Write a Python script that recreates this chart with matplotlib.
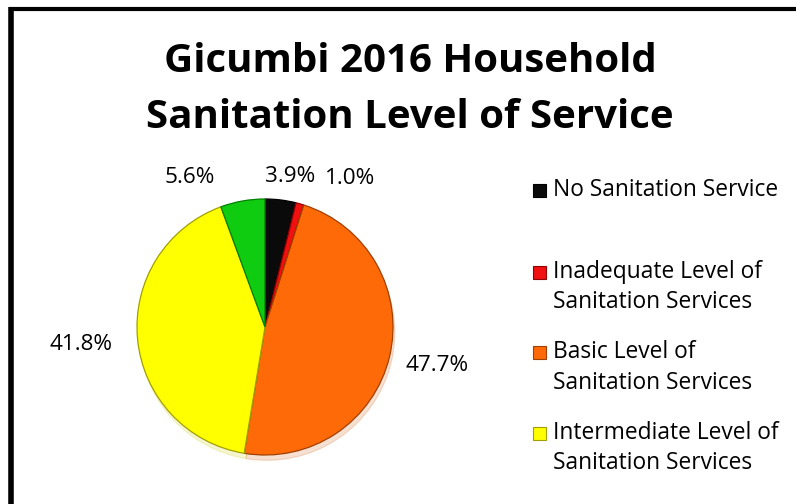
import matplotlib
matplotlib.use("Agg")
import matplotlib.pyplot as plt
from matplotlib.patches import Rectangle
from matplotlib.lines import Line2D
import numpy as np

categories = ["No Sanitation Service",
              "Inadequate Level of\nSanitation Services",
              "Basic Level of\nSanitation Services",
              "Intermediate Level of\nSanitation Services",
              "Advanced Level of\nSanitation Services"]
values = [3.9, 1.0, 47.7, 41.8, 5.6]
pct_labels = ["3.9%", "1.0%", "47.7%", "41.8%", "5.6%"]
colors = ["#0a0a0a", "#f01010", "#ff6a08", "#ffff00", "#10cc10"]
edges = ["#000000", "#900000", "#a04000", "#a0a000", "#008000"]
title_lines = ["Gicumbi 2016 Household", "Sanitation Level of Service"]

W, H = 796, 504
fig = plt.figure(figsize=(W / 100, H / 100), dpi=100)
fig.patch.set_facecolor("white")

font = "Open Sans"

# pie axes: center (265,327) px, radius 128 px ; limits -2..2 -> 512 px
cx, cy, r = 265, 327, 128
size = 4 * r
ax = fig.add_axes([(cx - size / 2) / W, (H - cy - size / 2) / H, size / W, size / H])

wedges, _ = ax.pie(values, colors=colors, startangle=90, counterclock=False,
                   radius=1.0,
                   wedgeprops=dict(linewidth=0.9),
                   shadow=dict(ox=0.01, oy=-0.03, shade=0.2, alpha=0.18))
for w, ec in zip(wedges, edges):
    w.set_edgecolor(ec)
    w.set_clip_on(False)
ax.set_aspect("auto")
ax.set_xlim(-2, 2)
ax.set_ylim(-2, 2)
ax.axis("off")

# label placement (distance from centre in radii, angle nudge in degrees)
label_dist = [1.19, 1.34, 1.38, 1.44, 1.31]
label_nudge = [-2.5, -14.0, 1.0, 0.0, 16.5]
for w, lab, d, nd in zip(wedges, pct_labels, label_dist, label_nudge):
    ang = np.deg2rad((w.theta1 + w.theta2) / 2 + nd)
    ax.text(d * np.cos(ang), d * np.sin(ang), lab, ha="center", va="center",
            fontsize=16.2, family=font, color="#000000", clip_on=False)

# title
title_y = [62, 118]
for t, y in zip(title_lines, title_y):
    fig.text(410 / W, 1 - y / H, t, ha="center", va="center", fontsize=29,
             fontweight="bold", family=font)

# legend (only first four entries are visible in the reference)
leg_line_y = [[190], [272, 302], [352, 383], [433, 463]]
for i in range(4):
    ys = leg_line_y[i]
    fig.patches.append(Rectangle((533 / W, 1 - (ys[0] + 6.5) / H), 13 / W, 13 / H,
                                 transform=fig.transFigure, facecolor=colors[i],
                                 edgecolor=edges[i], linewidth=0.8))
    for line, y in zip(categories[i].split("\n"), ys):
        fig.text(553 / W, 1 - y / H, line, ha="left", va="center",
                 fontsize=16.4, family=font)

# frame (left and top border)
fig.add_artist(Line2D([10.5 / W, 10.5 / W], [0, 1 - 7 / H], transform=fig.transFigure,
                      color="black", linewidth=4, solid_capstyle="butt"))
fig.add_artist(Line2D([8.5 / W, 1], [1 - 8.5 / H, 1 - 8.5 / H], transform=fig.transFigure,
                      color="black", linewidth=3, solid_capstyle="butt"))

fig.savefig("out.png", dpi=100)
